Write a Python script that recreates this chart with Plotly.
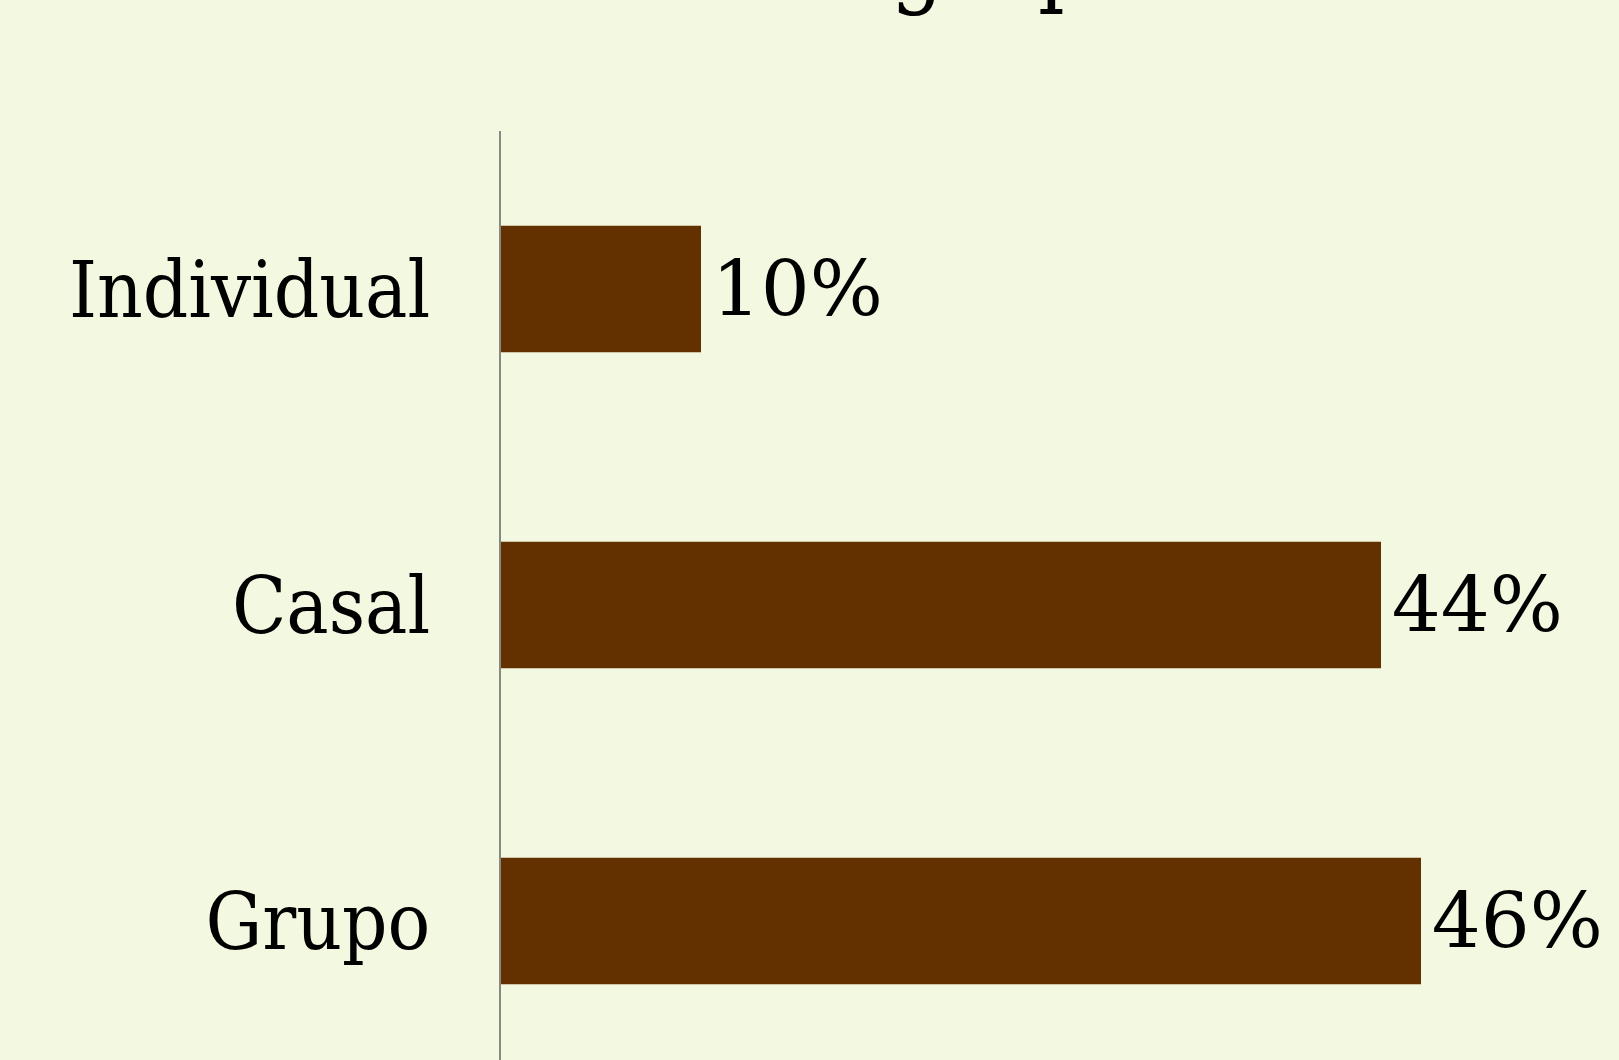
import plotly.graph_objects as go

categories = ["Individual", "Casal", "Grupo"]
values = [10, 44, 46]
labels = ["\u200a10%", "\u200a44%", "\u200a46%"]
title_text = "Tamanho do grupo"

BG = "#F3F8E1"
BAR = "#633100"
FONT = "DejaVu Serif Condensed"
NUM_FONT = "DejaVu Serif"

fig = go.Figure(
    go.Bar(
        y=categories,
        x=values,
        orientation="h",
        text=labels,
        textposition="outside",
        cliponaxis=False,
        marker=dict(color=BAR, line=dict(width=0)),
        textfont=dict(family=NUM_FONT, size=77, color="#000000"),
        width=0.4,
        hoverinfo="skip",
    )
)

fig.update_layout(
    width=1619,
    height=1060,
    paper_bgcolor=BG,
    plot_bgcolor=BG,
    showlegend=False,
    margin=dict(l=501, r=60, t=131, b=0),
    title=dict(
        text=title_text,
        font=dict(family=FONT, size=93, color="#000000"),
        xref="container",
        x=0.7053,
        xanchor="right",
        yref="container",
        y=1.0,
        yanchor="bottom",
        pad=dict(b=5),
    ),
    xaxis=dict(
        range=[0, 52.9],
        visible=False,
        showgrid=False,
        zeroline=False,
    ),
    yaxis=dict(
        categoryorder="array",
        categoryarray=categories,
        range=[2.44, -0.5],
        showline=True,
        linecolor="#888888",
        linewidth=2,
        showgrid=False,
        zeroline=False,
        ticks="",
        ticklabelstandoff=53,
        tickfont=dict(family=FONT, size=79, color="#000000"),
    ),
)

fig.write_html(
    "out.html",
    config={"displayModeBar": False},
    post_script="document.body.style.margin='0';document.body.style.background='" + BG + "';",
)
